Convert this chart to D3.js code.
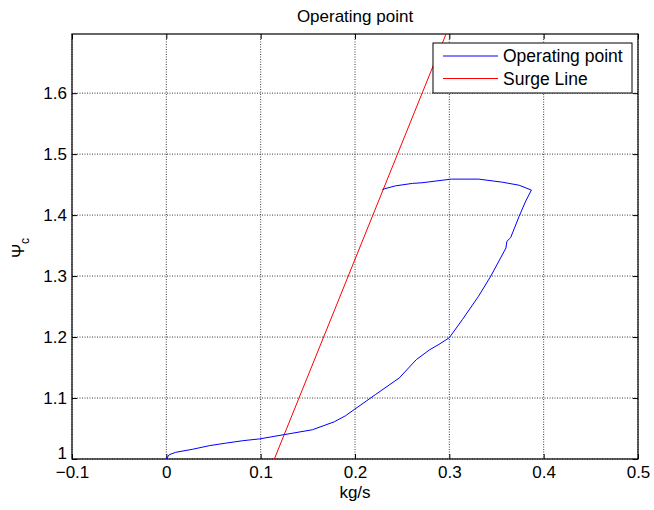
<!DOCTYPE html>
<html>
<head>
<meta charset="utf-8">
<script src="https://cdn.jsdelivr.net/npm/d3@7"></script>
<style>
  body { margin: 0; background: #fff; }
  text { font-family: "Liberation Sans", Arial, sans-serif; fill: #000; }
</style>
</head>
<body>
<div id="chart"></div>
<script>
// operating point trajectory (kg/s, psi_c)
const opX = [0.000, 0.003, 0.010, 0.028, 0.046, 0.063, 0.081, 0.099, 0.125, 0.155,
             0.178, 0.190, 0.200, 0.222, 0.247, 0.265, 0.279, 0.289, 0.300,
             0.314, 0.331, 0.344, 0.360, 0.361, 0.365, 0.374, 0.381, 0.387,
             0.374, 0.356, 0.331, 0.302, 0.271, 0.261, 0.243, 0.231, 0.229];
const opY = [1.000, 1.007, 1.011, 1.016, 1.022, 1.026, 1.030, 1.033, 1.040, 1.048,
             1.061, 1.071, 1.082, 1.106, 1.133, 1.163, 1.179, 1.188, 1.199,
             1.229, 1.267, 1.300, 1.346, 1.357, 1.363, 1.398, 1.423, 1.441,
             1.449, 1.454, 1.459, 1.459, 1.453, 1.452, 1.448, 1.443, 1.442];

// surge line
const surgeX = [0.1145, 0.2965];
const surgeY = [1.0, 1.697];

const xTicks = [-0.1, 0, 0.1, 0.2, 0.3, 0.4, 0.5];
const yTicks = [1, 1.1, 1.2, 1.3, 1.4, 1.5, 1.6];
const xDomain = [-0.1, 0.5];
const yDomain = [1, 1.697];

const legendItems = [
  {label: 'Operating point', color: '#0000ff'},
  {label: 'Surge Line', color: '#ff0000'},
];

const W = 654, H = 510;
const pL = 72, pR = 638, pT = 34, pB = 459;

const svg = d3.select('#chart').append('svg')
  .attr('width', W).attr('height', H);

const x = d3.scaleLinear().domain(xDomain).range([pL, pR]);
const y = d3.scaleLinear().domain(yDomain).range([pB, pT]);

// grid (dotted)
const grid = svg.append('g')
  .attr('stroke', '#3a3a3a')
  .attr('stroke-width', 1)
  .attr('stroke-dasharray', '1,1.5');
xTicks.forEach(t => {
  grid.append('line').attr('x1', x(t)).attr('x2', x(t)).attr('y1', pT).attr('y2', pB);
});
yTicks.forEach(t => {
  grid.append('line').attr('x1', pL).attr('x2', pR).attr('y1', y(t)).attr('y2', y(t));
});

// axes, ticks pointing inward
const axB = d3.axisBottom(x).tickValues(xTicks).tickSize(-5).tickPadding(7)
  .tickFormat(d3.format('~g'));
const axT = d3.axisTop(x).tickValues(xTicks).tickSize(-5).tickFormat('');
const axL = d3.axisLeft(y).tickValues(yTicks).tickSize(-5).tickPadding(5)
  .tickFormat(d3.format('~g'));
const axR = d3.axisRight(y).tickValues(yTicks).tickSize(-5).tickFormat('');

const styleAxis = g => {
  g.select('.domain').remove();
  g.selectAll('line').attr('stroke', '#000');
  g.selectAll('text').attr('font-size', 17).attr('fill', '#000')
    .attr('font-family', '"Liberation Sans", Arial, sans-serif');
};
svg.append('g').attr('transform', `translate(0,${pB})`).call(axB).call(styleAxis);
svg.append('g').attr('transform', `translate(0,${pT})`).call(axT).call(styleAxis);
const gl = svg.append('g').attr('transform', `translate(${pL},0)`).call(axL).call(styleAxis);
svg.append('g').attr('transform', `translate(${pR},0)`).call(axR).call(styleAxis);
// lowest y label sits a little above the axis corner, as in the original
gl.selectAll('.tick text').filter(d => d === 1).attr('dy', '-0.02em');

svg.append('rect')
  .attr('x', pL).attr('y', pT)
  .attr('width', pR - pL).attr('height', pB - pT)
  .attr('fill', 'none').attr('stroke', '#000').attr('stroke-width', 1.2);

// clip for the data lines
svg.append('clipPath').attr('id', 'plotclip').append('rect')
  .attr('x', pL).attr('y', pT).attr('width', pR - pL).attr('height', pB - pT);

const line = d3.line().x(d => x(d[0])).y(d => y(d[1]));
const plot = svg.append('g').attr('clip-path', 'url(#plotclip)');

plot.append('path')
  .datum(d3.zip(surgeX, surgeY))
  .attr('d', line)
  .attr('fill', 'none').attr('stroke', legendItems[1].color).attr('stroke-width', 1);

plot.append('path')
  .datum(d3.zip(opX, opY))
  .attr('d', line)
  .attr('fill', 'none').attr('stroke', legendItems[0].color).attr('stroke-width', 1);

// title and labels
svg.append('text')
  .attr('x', (pL + pR) / 2).attr('y', 22)
  .attr('text-anchor', 'middle').attr('font-size', 17)
  .text('Operating point');

svg.append('text')
  .attr('x', (pL + pR) / 2).attr('y', 498)
  .attr('text-anchor', 'middle').attr('font-size', 17)
  .text('kg/s');

const yl = svg.append('text')
  .attr('transform', `translate(24,248) rotate(-90)`)
  .attr('text-anchor', 'middle').attr('font-size', 17);
yl.append('tspan').text('Ψ');
yl.append('tspan').attr('font-size', 12).attr('dy', 5).text('c');

// legend
const lg = svg.append('g');
lg.append('rect')
  .attr('x', 433).attr('y', 43).attr('width', 199).attr('height', 50)
  .attr('fill', '#fff').attr('stroke', '#000').attr('stroke-width', 1);
legendItems.forEach((item, i) => {
  const ly = 56 + i * 22.5;
  lg.append('line')
    .attr('x1', 443).attr('x2', 498).attr('y1', ly).attr('y2', ly)
    .attr('stroke', item.color).attr('stroke-width', 1);
  lg.append('text')
    .attr('x', 503).attr('y', ly + 6).attr('font-size', 17.5)
    .text(item.label);
});
</script>
</body>
</html>
